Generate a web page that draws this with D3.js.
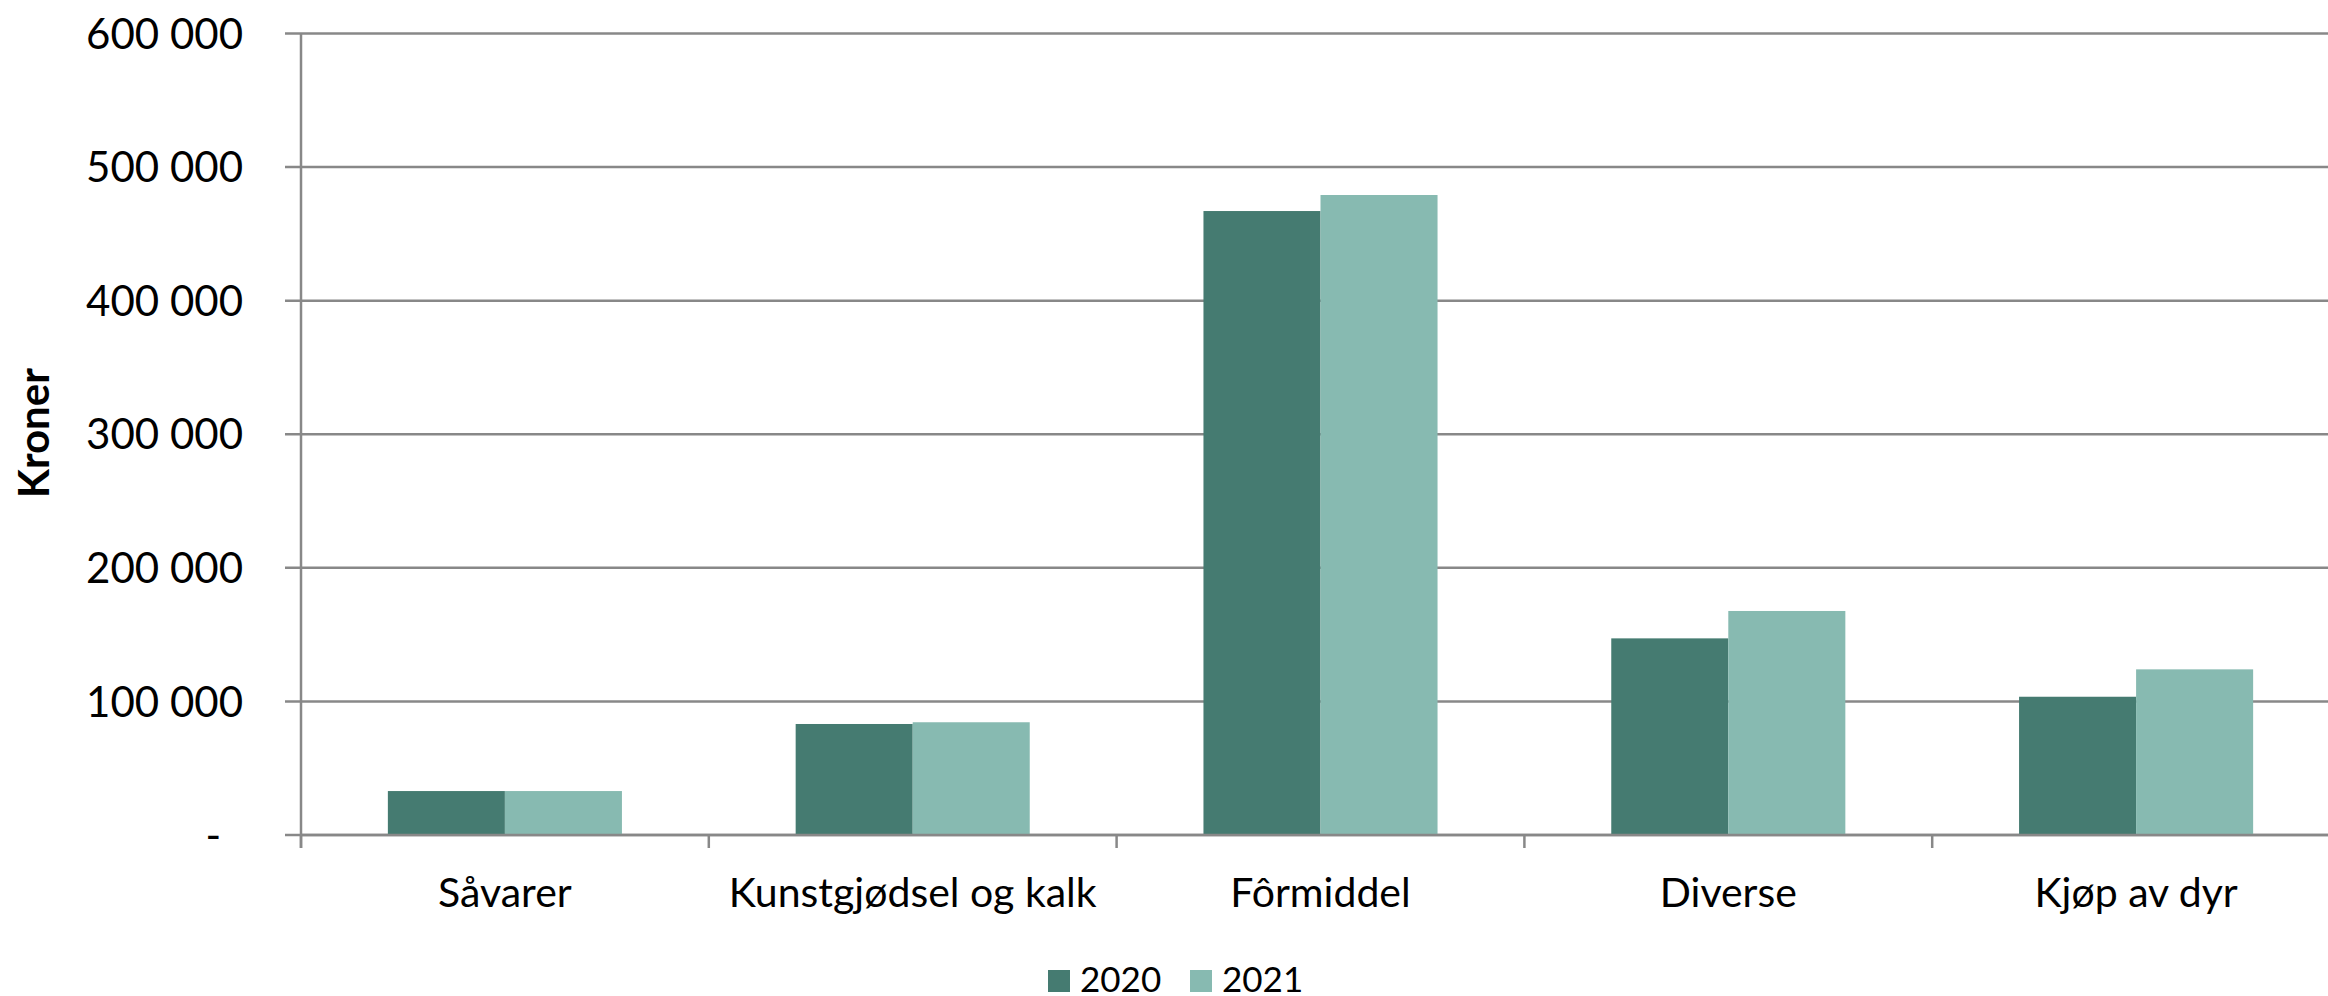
<!DOCTYPE html>
<html>
<head>
<meta charset="utf-8">
<script src="https://cdn.jsdelivr.net/npm/d3@7"></script>
<style>
  body { margin: 0; background: #fff; }
  svg { display: block; font-family: Lato, "Open Sans", sans-serif; }
</style>
</head>
<body>
<svg width="2328" height="996"></svg>
<script>
// data
var categories = ["Såvarer", "Kunstgjødsel og kalk", "Fôrmiddel", "Diverse", "Kjøp av dyr"];
var years = ["2020", "2021"];
var values2020 = [32900, 83100, 467100, 147200, 103500];
var values2021 = [32900, 84400, 479100, 167700, 124000];
var yTicks = [0, 100000, 200000, 300000, 400000, 500000, 600000];

var colors = { "2020": "#457b71", "2021": "#87bab1" };
var gridColor = "#888888";

var svg = d3.select("svg");
// plot area (note: "top" is reserved on window, so use other names)
var plotLeft = 301, plotRight = 2340, plotTop = 33.5, plotBottom = 835;

var x = d3.scaleBand().domain(categories).range([plotLeft, plotRight])
  .paddingInner(0.426).paddingOuter(0.213);
var x1 = d3.scaleBand().domain(years).range([0, x.bandwidth()]);
var y = d3.scaleLinear().domain([0, 600000]).range([plotBottom, plotTop]);

var nb = d3.formatLocale({ decimal: ",", thousands: " ", grouping: [3], currency: ["", ""] });
var fmt = function(d) { return d === 0 ? "-" : nb.format(",")(d); };

// horizontal gridlines (plus the little outer ticks left of the axis)
svg.append("g").selectAll("line").data(yTicks).enter().append("line")
  .attr("x1", plotLeft - 16).attr("x2", 2328)
  .attr("y1", function(d) { return y(d); }).attr("y2", function(d) { return y(d); })
  .attr("stroke", gridColor).attr("stroke-width", 2.5);

// y labels (the zero dash sits a bit in from the right, accounting style)
svg.append("g").selectAll("text").data(yTicks).enter().append("text")
  .attr("x", function(d) { return d === 0 ? 221 : 243; })
  .attr("y", function(d) { return y(d); })
  .attr("dy", "0.36em").attr("text-anchor", "end")
  .attr("font-size", 42).attr("fill", "#000")
  .text(fmt);

// bars
var rows = categories.map(function(c, i) {
  return { cat: c, vals: [{ year: "2020", v: values2020[i] }, { year: "2021", v: values2021[i] }] };
});
var groups = svg.append("g").selectAll("g").data(rows).enter().append("g")
  .attr("transform", function(d) { return "translate(" + x(d.cat) + ",0)"; });
groups.selectAll("rect").data(function(d) { return d.vals; }).enter().append("rect")
  .attr("x", function(d) { return x1(d.year); })
  .attr("width", x1.bandwidth())
  .attr("y", function(d) { return y(d.v); })
  .attr("height", function(d) { return plotBottom - y(d.v); })
  .attr("fill", function(d) { return colors[d.year]; });

// y axis line
svg.append("line").attr("x1", plotLeft).attr("x2", plotLeft)
  .attr("y1", plotTop).attr("y2", plotBottom + 13)
  .attr("stroke", gridColor).attr("stroke-width", 2.5);

// category boundary ticks
var bounds = d3.range(categories.length + 1).map(function(i) { return plotLeft + i * x.step(); });
svg.append("g").selectAll("line").data(bounds).enter().append("line")
  .attr("x1", function(d) { return d; }).attr("x2", function(d) { return d; })
  .attr("y1", plotBottom).attr("y2", plotBottom + 13)
  .attr("stroke", gridColor).attr("stroke-width", 2.5);

// zero line on top of bars
svg.append("line").attr("x1", plotLeft).attr("x2", 2328).attr("y1", plotBottom).attr("y2", plotBottom)
  .attr("stroke", gridColor).attr("stroke-width", 2.5);

// category labels
svg.append("g").selectAll("text").data(categories).enter().append("text")
  .attr("x", function(d) { return x(d) + x.bandwidth() / 2; })
  .attr("y", 907).attr("text-anchor", "middle")
  .attr("font-size", 41).attr("fill", "#000")
  .text(function(d) { return d; });

// y axis title
svg.append("text")
  .attr("transform", "translate(49,433) rotate(-90)")
  .attr("text-anchor", "middle").attr("font-size", 42).attr("font-weight", "bold")
  .text("Kroner");

// legend
var legendX = [1048, 1190];
var legend = svg.append("g").selectAll("g").data(years).enter().append("g")
  .attr("transform", function(d, i) { return "translate(" + legendX[i] + ",0)"; });
legend.append("rect").attr("x", 0).attr("y", 970).attr("width", 22).attr("height", 22)
  .attr("fill", function(d) { return colors[d]; });
legend.append("text").attr("x", 32).attr("y", 992).attr("font-size", 35)
  .text(function(d) { return d; });
</script>
</body>
</html>
